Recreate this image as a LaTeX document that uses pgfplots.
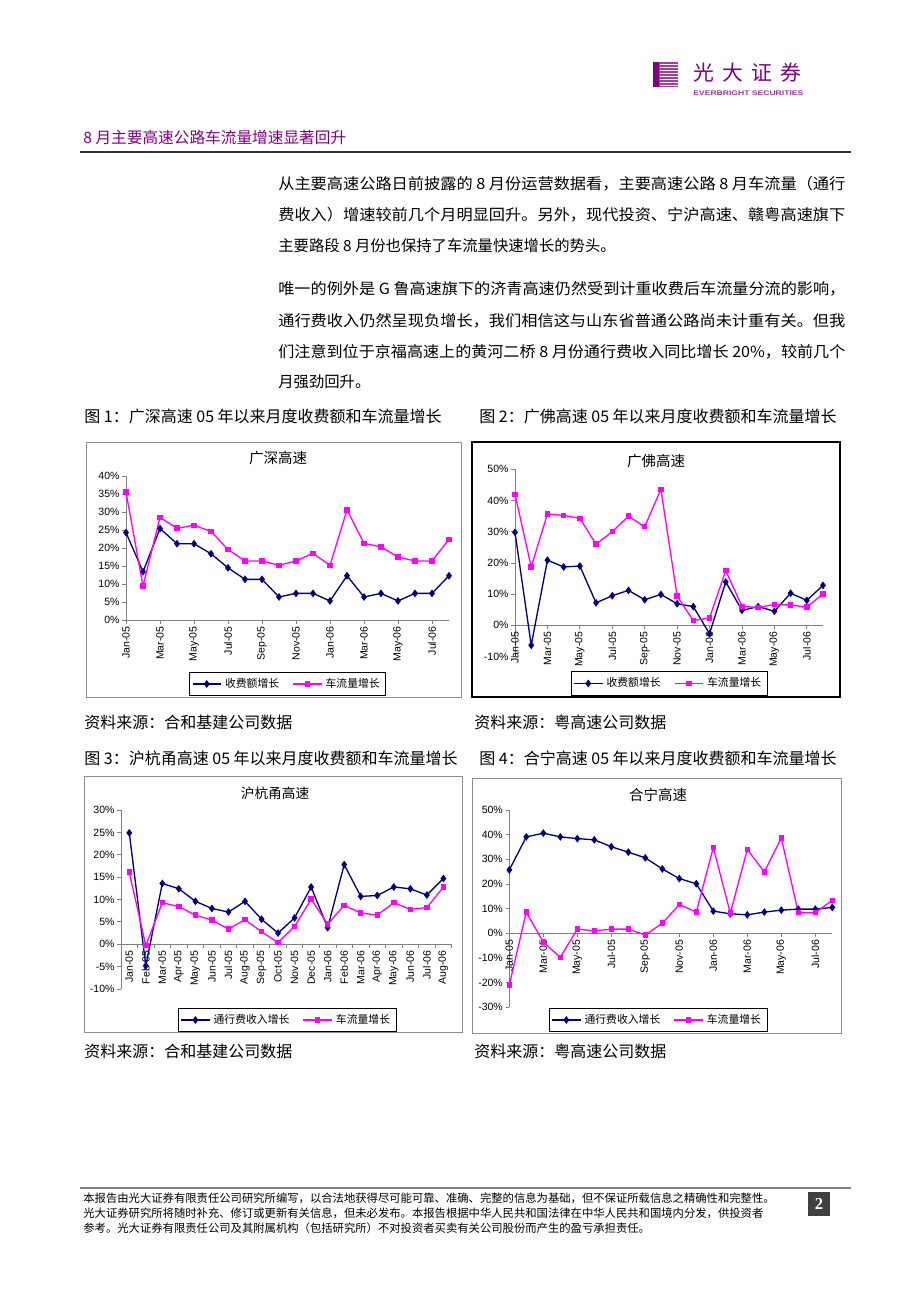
\documentclass[border=0pt]{standalone}
\usepackage{pgfplots}
\pgfplotsset{compat=1.18}
\usepackage{graphicx}
\usepackage{fontspec}
\setmainfont{Liberation Sans}
\newfontfamily\cjk{Noto Sans CJK SC}
\newfontfamily\arial{Liberation Sans}
\newfontfamily\tnr{Liberation Serif}
\definecolor{navy}{RGB}{0,0,128}
\definecolor{mag}{RGB}{255,0,255}
\definecolor{ebpurple}{RGB}{128,0,128}
\definecolor{axgray}{RGB}{128,128,128}
\newcommand{\bt}{\cjk\fontsize{9.2}{11}\selectfont}
\newcommand{\ct}{\cjk\fontsize{9.6}{11}\selectfont}
\newcommand{\ft}{\cjk\fontsize{6.8}{8}\selectfont}
\pgfplotsset{
  hw/.style={
    scale only axis,
    axis y line=left,
    axis x line=middle,
    hide obscured x ticks=false,
    hide obscured y ticks=false,
    axis line style={axgray, line width=0.5pt, -},
    tick style={axgray, line width=0.5pt},
    tick align=outside,
    major tick length=2.2pt,
    minor tick length=2.2pt,
    ticklabel style={font=\arial\fontsize{6.3}{7}\selectfont, black},
    xticklabel style={rotate=90, anchor=east, inner sep=1.5pt},
    yticklabel style={inner sep=1.5pt},
    clip=false,
    legend style={draw=black, line width=0.4pt, font=\cjk\fontsize{6.5}{7}\selectfont,
      legend columns=2, /tikz/every even column/.append style={column sep=6pt},
      inner sep=1.5pt, anchor=center},
    legend cell align=left,
  },
  sa/.style={navy, line width=0.8pt, mark=diamond*, mark size=1.7pt, mark options={solid, fill=navy}},
  sb/.style={mag, line width=0.8pt, mark=square*, mark size=1.25pt, mark options={solid, fill=mag}},
}
\begin{document}
\begin{tikzpicture}
\path[use as bounding box, fill=white] (0,0) rectangle (552pt,-781.2pt);
\begin{scope}[x=0.6pt,y=-0.6pt]
% ---- logo ----
\fill[ebpurple!75] (653,62) rectangle (678,87);
\foreach \yy in {64.5,67.5,70.5,73.5,76.5,79.5,82.5,85.5} {
  \draw[white, line width=0.5pt] (660,\yy) -- (678,\yy);
}
\fill[ebpurple] (653,62) rectangle (659,87);
\node[anchor=west, inner sep=0, text=ebpurple] at (693,73) {\cjk\fontsize{12.5}{13}\selectfont 光\hspace{5pt}大\hspace{5pt}证\hspace{5pt}券};
\node[anchor=west, inner sep=0, text=ebpurple!80] at (693,93.5) {\resizebox{66pt}{\height}{\arial\bfseries\fontsize{4}{5}\selectfont EVERBRIGHT SECURITIES}};
% ---- header ----
\node[anchor=west, inner sep=0, text=ebpurple] at (83,138) {\cjk\fontsize{9.4}{11}\selectfont 8 月主要高速公路车流量增速显著回升};
\draw[black!80, line width=0.9pt] (80,152) -- (851,152);
% ---- body ----
\node[anchor=west, inner sep=0] at (278,184) {\resizebox{340.2pt}{\height}{\bt 从主要高速公路日前披露的 8 月份运营数据看，主要高速公路 8 月车流量（通行}};
\node[anchor=west, inner sep=0] at (278,215) {\resizebox{340.2pt}{\height}{\bt 费收入）增速较前几个月明显回升。另外，现代投资、宁沪高速、赣粤高速旗下}};
\node[anchor=west, inner sep=0] at (278,246) {\bt 主要路段 8 月份也保持了车流量快速增长的势头。};
\node[anchor=west, inner sep=0] at (278,289) {\resizebox{340.2pt}{\height}{\bt 唯一的例外是 G 鲁高速旗下的济青高速仍然受到计重收费后车流量分流的影响，}};
\node[anchor=west, inner sep=0] at (278,321) {\resizebox{340.2pt}{\height}{\bt 通行费收入仍然呈现负增长，我们相信这与山东省普通公路尚未计重有关。但我}};
\node[anchor=west, inner sep=0] at (278,352) {\resizebox{340.2pt}{\height}{\bt 们注意到位于京福高速上的黄河二桥 8 月份通行费收入同比增长 20\%，较前几个}};
\node[anchor=west, inner sep=0] at (278,382) {\bt 月强劲回升。};
% ---- captions ----
\node[anchor=west, inner sep=0] at (84,416) {\ct 图 1：广深高速 05 年以来月度收费额和车流量增长};
\node[anchor=west, inner sep=0] at (479,416) {\ct 图 2：广佛高速 05 年以来月度收费额和车流量增长};
\node[anchor=west, inner sep=0] at (84,722) {\ct 资料来源：合和基建公司数据};
\node[anchor=west, inner sep=0] at (474,722) {\ct 资料来源：粤高速公司数据};
\node[anchor=west, inner sep=0] at (84,758) {\ct 图 3：沪杭甬高速 05 年以来月度收费额和车流量增长};
\node[anchor=west, inner sep=0] at (479,758) {\ct 图 4：合宁高速 05 年以来月度收费额和车流量增长};
\node[anchor=west, inner sep=0] at (84,1051) {\ct 资料来源：合和基建公司数据};
\node[anchor=west, inner sep=0] at (474,1051) {\ct 资料来源：粤高速公司数据};
% ---- chart frames ----
\draw[black!45, line width=0.5pt] (86,442) rectangle (461,697);
\draw[black, line width=1.1pt] (472,442) rectangle (840,697);
\draw[black!45, line width=0.5pt] (84,776) rectangle (462,1032);
\draw[black!45, line width=0.5pt] (472,778) rectangle (841,1033);
% ---- chart titles ----
\node[inner sep=0] at (278,458) {\cjk\fontsize{8.7}{10}\selectfont 广深高速};
\node[inner sep=0] at (656,461) {\cjk\fontsize{8.7}{10}\selectfont 广佛高速};
\node[inner sep=0] at (275,793) {\cjk\fontsize{8.2}{10}\selectfont 沪杭甬高速};
\node[inner sep=0] at (658,795) {\cjk\fontsize{8.7}{10}\selectfont 合宁高速};
% ---- footer ----
\draw[black!50, line width=0.7pt] (80,1188) -- (851,1188);
\node[anchor=west, inner sep=0] at (83,1198) {\ft 本报告由光大证券有限责任公司研究所编写，以合法地获得尽可能可靠、准确、完整的信息为基础，但不保证所载信息之精确性和完整性。};
\node[anchor=west, inner sep=0] at (83,1213) {\ft 光大证券研究所将随时补充、修订或更新有关信息，但未必发布。本报告根据中华人民共和国法律在中华人民共和国境内分发，供投资者};
\node[anchor=west, inner sep=0] at (83,1228) {\ft 参考。光大证券有限责任公司及其附属机构（包括研究所）不对投资者买卖有关公司股份而产生的盈亏承担责任。};
\fill[black!75] (808,1192) rectangle (830,1216);
\node[text=white, inner sep=0] at (819,1204) {\tnr\bfseries\fontsize{10}{11}\selectfont 2};
% ---- anchors for axes ----
\coordinate (A1) at (126,620);
\coordinate (A2) at (515,656.5);
\coordinate (A3) at (121,989);
\coordinate (A4) at (509.3,1007.3);
\end{scope}

% ===== Chart 1 =====
\begin{axis}[hw, at={(A1)}, anchor=south west,
  width=193.8pt, height=86.4pt,
  xmin=0, xmax=19, ymin=0, ymax=40,
  xtick={0,2,...,18},
  xticklabels={Jan-05,Mar-05,May-05,Jul-05,Sep-05,Nov-05,Jan-06,Mar-06,May-06,Jul-06},
  ytick={0,5,...,40},
  yticklabels={0\%,5\%,10\%,15\%,20\%,25\%,30\%,35\%,40\%},
  legend style={at={(0.5,-0.444)}}]
\addplot[sa] coordinates {(0,24.3)(1,13.4)(2,25.4)(3,21.2)(4,21.2)(5,18.4)(6,14.5)(7,11.3)(8,11.3)(9,6.4)(10,7.4)(11,7.4)(12,5.3)(13,12.3)(14,6.4)(15,7.4)(16,5.3)(17,7.4)(18,7.4)(19,12.3)};
\addlegendentry{收费额增长}
\addplot[sb] coordinates {(0,35.6)(1,9.4)(2,28.5)(3,25.5)(4,26.3)(5,24.6)(6,19.6)(7,16.4)(8,16.4)(9,15.2)(10,16.4)(11,18.5)(12,15.2)(13,30.6)(14,21.3)(15,20.3)(16,17.5)(17,16.4)(18,16.4)(19,22.4)};
\addlegendentry{车流量增长}
\end{axis}

% ===== Chart 2 =====
\begin{axis}[hw, at={(A2)}, anchor=south west,
  width=184.8pt, height=112.3pt,
  xmin=0, xmax=19, ymin=-10, ymax=50,
  xtick={0,2,...,18},
  xticklabels={Jan-05,Mar-05,May-05,Jul-05,Sep-05,Nov-05,Jan-06,Mar-06,May-06,Jul-06},
  ytick={-10,0,...,50},
  yticklabels={-10\%,0\%,10\%,20\%,30\%,40\%,50\%},
  legend style={at={(0.5,-0.144)}}]
\addplot[sa] coordinates {(0,29.8)(1,-6.4)(2,20.9)(3,18.7)(4,19.0)(5,7.2)(6,9.5)(7,11.2)(8,8.2)(9,9.9)(10,6.9)(11,6.0)(12,-2.7)(13,13.9)(14,4.8)(15,6.0)(16,4.5)(17,10.3)(18,8.0)(19,12.8)};
\addlegendentry{收费额增长}
\addplot[sb] coordinates {(0,42.0)(1,18.7)(2,35.7)(3,35.2)(4,34.3)(5,26.0)(6,30.0)(7,35.0)(8,31.6)(9,43.6)(10,9.4)(11,1.5)(12,2.4)(13,17.5)(14,6.1)(15,5.7)(16,6.7)(17,6.5)(18,5.8)(19,10.1)};
\addlegendentry{车流量增长}
\end{axis}

% ===== Chart 3 =====
\begin{axis}[hw, at={(A3)}, anchor=south west,
  width=198.4pt, height=107.4pt,
  xmin=-0.5, xmax=19.5, ymin=-10, ymax=30,
  xtick={0,...,19},
  xticklabels={Jan-05,Feb-05,Mar-05,Apr-05,May-05,Jun-05,Jul-05,Aug-05,Sep-05,Oct-05,Nov-05,Dec-05,Jan-06,Feb-06,Mar-06,Apr-06,May-06,Jun-06,Jul-06,Aug-06},
  minor xtick={-0.5,0.5,...,19.5},
  every major x tick/.append style={draw=none},
  ytick={-10,-5,...,30},
  yticklabels={-10\%,-5\%,0\%,5\%,10\%,15\%,20\%,25\%,30\%},
  legend style={at={(0.502,-0.173)}}]
\addplot[sa] coordinates {(0,24.9)(1,-4.8)(2,13.6)(3,12.4)(4,9.6)(5,8.0)(6,7.2)(7,9.6)(8,5.6)(9,2.5)(10,5.9)(11,12.8)(12,3.7)(13,17.8)(14,10.7)(15,10.9)(16,12.8)(17,12.4)(18,11.0)(19,14.7)};
\addlegendentry{通行费收入增长}
\addplot[sb] coordinates {(0,16.1)(1,-0.3)(2,9.3)(3,8.4)(4,6.5)(5,5.4)(6,3.4)(7,5.5)(8,2.8)(9,0.4)(10,4.0)(11,10.1)(12,4.5)(13,8.7)(14,7.0)(15,6.5)(16,9.3)(17,7.8)(18,8.2)(19,12.8)};
\addlegendentry{车流量增长}
\end{axis}

% ===== Chart 4 =====
\begin{axis}[hw, at={(A4)}, anchor=south west,
  width=193.8pt, height=118.4pt,
  xmin=0, xmax=19, ymin=-30, ymax=50,
  xtick={0,2,...,18},
  xticklabels={Jan-05,Mar-05,May-05,Jul-05,Sep-05,Nov-05,Jan-06,Mar-06,May-06,Jul-06},
  ytick={-30,-20,...,50},
  yticklabels={-30\%,-20\%,-10\%,0\%,10\%,20\%,30\%,40\%,50\%},
  legend style={at={(0.46,-0.064)}}]
\addplot[sa] coordinates {(0,25.7)(1,39.1)(2,40.6)(3,39.1)(4,38.4)(5,37.9)(6,35.1)(7,32.9)(8,30.6)(9,26.1)(10,22.2)(11,20.1)(12,9.0)(13,7.9)(14,7.5)(15,8.6)(16,9.4)(17,9.8)(18,9.8)(19,10.5)};
\addlegendentry{通行费收入增长}
\addplot[sb] coordinates {(0,-20.9)(1,8.6)(2,-3.6)(3,-9.7)(4,1.7)(5,1.0)(6,1.7)(7,1.7)(8,-0.7)(9,4.1)(10,11.7)(11,8.6)(12,34.8)(13,8.2)(14,34.0)(15,24.9)(16,38.6)(17,8.4)(18,8.4)(19,13.4)};
\addlegendentry{车流量增长}
\end{axis}
\end{tikzpicture}
\end{document}
